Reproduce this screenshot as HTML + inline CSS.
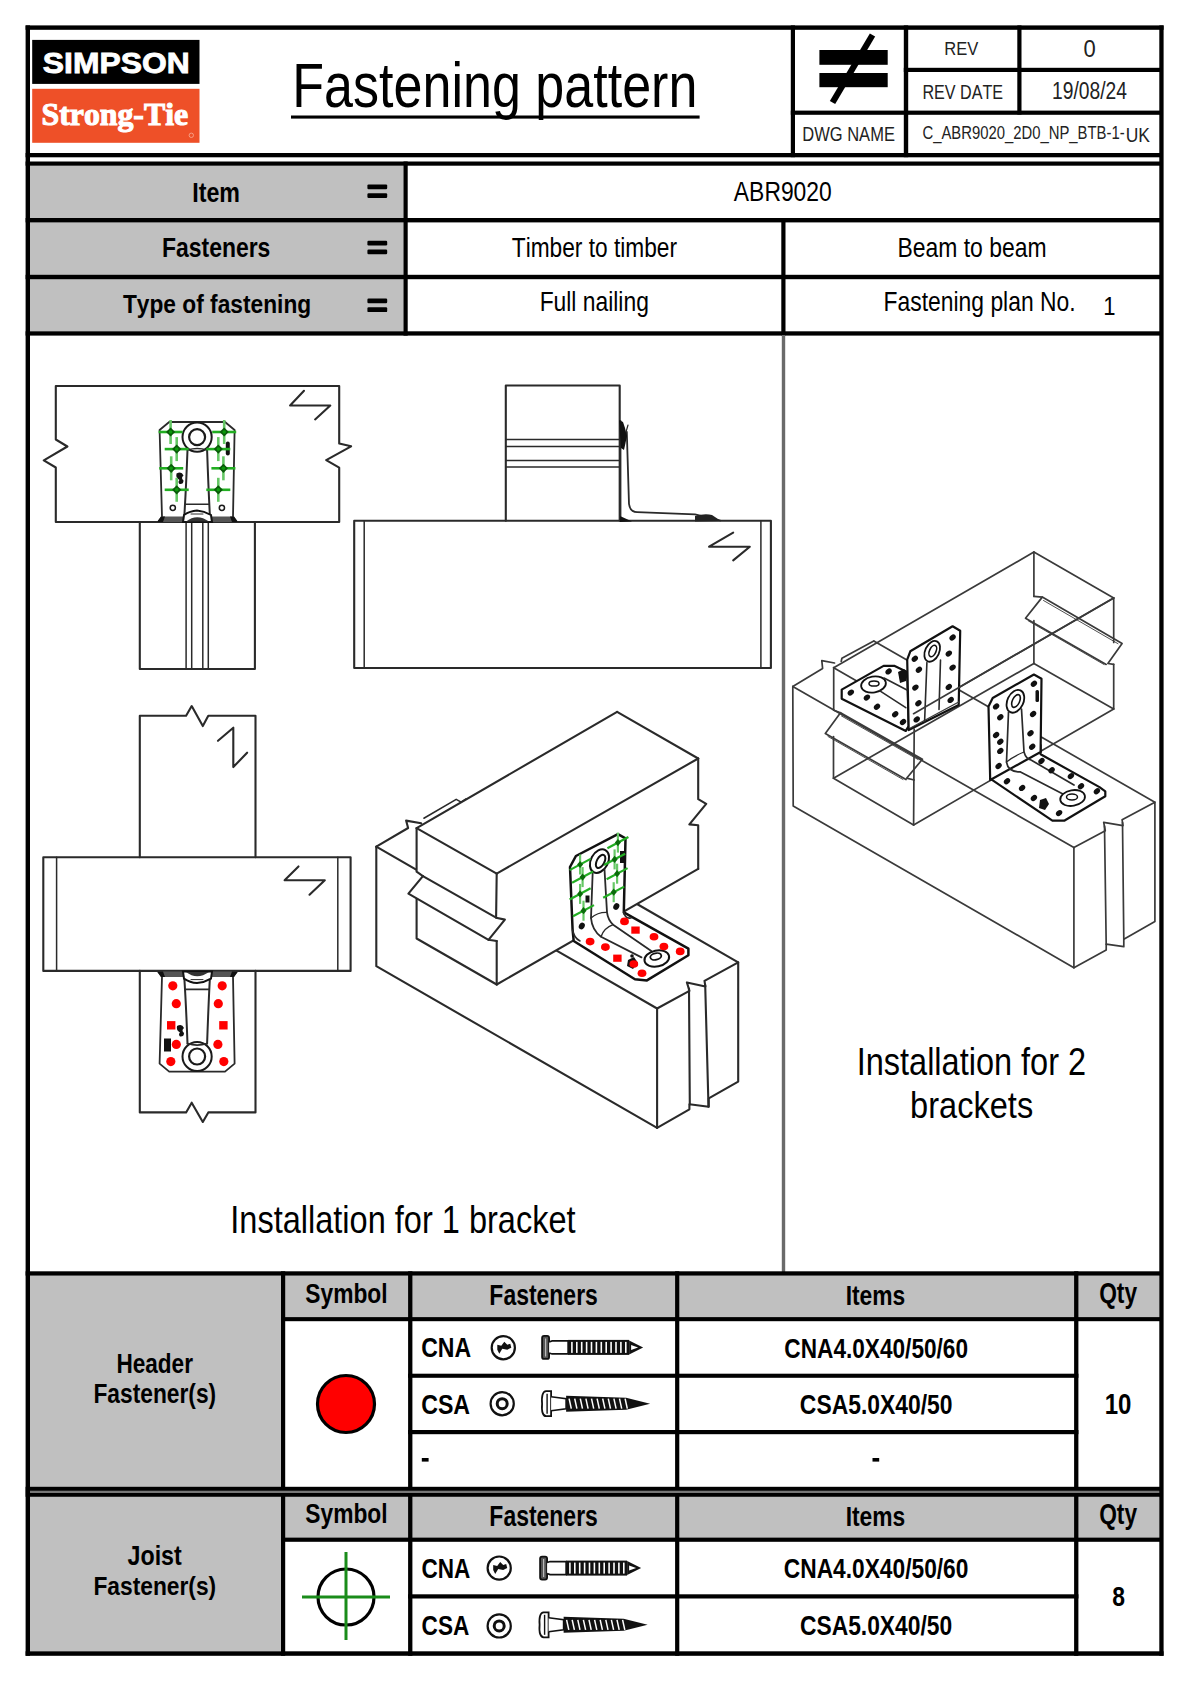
<!DOCTYPE html>
<html><head><meta charset="utf-8"><style>
html,body{margin:0;padding:0;background:#fff;}
svg{display:block;}
text{font-kerning:none;}
</style></head><body>
<svg width="1190" height="1682" viewBox="0 0 1190 1682">
<rect width="1190" height="1682" fill="#fff"/>
<rect x="29.80" y="165.50" width="373.90" height="52.70" fill="#c0c0c0"/>
<rect x="29.80" y="222.20" width="373.90" height="52.80" fill="#c0c0c0"/>
<rect x="29.80" y="279.00" width="373.90" height="52.50" fill="#c0c0c0"/>
<rect x="29.80" y="1275.40" width="251.40" height="211.60" fill="#c0c0c0"/>
<rect x="285.00" y="1275.40" width="874.40" height="41.90" fill="#c0c0c0"/>
<rect x="29.80" y="1496.60" width="251.40" height="154.80" fill="#c0c0c0"/>
<rect x="285.00" y="1496.60" width="874.40" height="41.20" fill="#c0c0c0"/>
<rect x="25.60" y="25.40" width="4.40" height="1630.40" fill="#000"/>
<rect x="1159.30" y="25.40" width="4.30" height="1630.40" fill="#000"/>
<rect x="25.60" y="25.40" width="1138.00" height="4.40" fill="#000"/>
<rect x="25.60" y="1651.30" width="1138.00" height="4.50" fill="#000"/>
<rect x="790.80" y="25.40" width="4.20" height="131.80" fill="#000"/>
<rect x="903.80" y="25.40" width="4.40" height="131.80" fill="#000"/>
<rect x="1017.30" y="25.40" width="4.20" height="89.20" fill="#000"/>
<rect x="903.80" y="67.80" width="259.20" height="4.20" fill="#000"/>
<rect x="790.80" y="110.60" width="372.20" height="4.20" fill="#000"/>
<rect x="25.60" y="153.00" width="1137.40" height="4.30" fill="#000"/>
<rect x="25.60" y="161.50" width="1137.40" height="4.20" fill="#000"/>
<rect x="25.60" y="218.00" width="1137.40" height="4.40" fill="#000"/>
<rect x="25.60" y="274.80" width="1137.40" height="4.40" fill="#000"/>
<rect x="25.60" y="331.30" width="1137.40" height="4.30" fill="#000"/>
<rect x="403.50" y="161.50" width="4.20" height="174.10" fill="#000"/>
<rect x="781.30" y="218.00" width="4.20" height="117.60" fill="#000"/>
<rect x="781.80" y="335.00" width="3.40" height="937.00" fill="#6a6a6a"/>
<rect x="25.60" y="1271.30" width="1137.40" height="4.30" fill="#000"/>
<rect x="281.00" y="1271.30" width="4.20" height="384.50" fill="#000"/>
<rect x="408.10" y="1271.30" width="4.30" height="384.50" fill="#000"/>
<rect x="675.10" y="1271.30" width="4.20" height="384.50" fill="#000"/>
<rect x="1074.10" y="1271.30" width="4.30" height="384.50" fill="#000"/>
<rect x="281.00" y="1317.10" width="882.00" height="4.10" fill="#000"/>
<rect x="408.10" y="1373.70" width="670.30" height="4.10" fill="#000"/>
<rect x="408.10" y="1430.00" width="670.30" height="4.20" fill="#000"/>
<rect x="25.60" y="1486.80" width="1137.40" height="10.00" fill="#000"/>
<rect x="30.00" y="1490.70" width="1129.30" height="2.30" fill="#777"/>
<rect x="281.00" y="1537.60" width="882.00" height="4.20" fill="#000"/>
<rect x="408.10" y="1594.30" width="670.30" height="4.20" fill="#000"/>
<rect x="32.20" y="39.90" width="167.30" height="44.00" fill="#000"/>
<rect x="32.20" y="88.80" width="167.30" height="54.00" fill="#ee5028"/>
<text x="42.88" y="73.00" font-family="Liberation Sans" font-weight="bold" font-size="30.08" textLength="146.76" lengthAdjust="spacingAndGlyphs" fill="#fff" stroke="#fff" stroke-width="0.9">SIMPSON</text>
<text x="41.51" y="124.60" font-family="Liberation Serif" font-weight="bold" font-size="32.62" textLength="146.62" lengthAdjust="spacingAndGlyphs" fill="#fff" stroke="#fff" stroke-width="1.1">Strong-Tie</text>
<circle cx="191.3" cy="135.3" r="2.2" fill="none" stroke="#f6a58c" stroke-width="0.9"/>
<text x="292.33" y="106.50" font-family="Liberation Sans" font-weight="normal" font-size="63.37" textLength="405.05" lengthAdjust="spacingAndGlyphs" fill="#000" >Fastening pattern</text>
<rect x="291.00" y="115.50" width="408.60" height="3.10" fill="#000"/>
<rect x="819.40" y="50.00" width="68.30" height="14.80" fill="#000"/>
<rect x="819.40" y="73.00" width="68.30" height="14.20" fill="#000"/>
<line x1="872.5" y1="35" x2="832.5" y2="102.5" stroke="#000" stroke-width="6.2" stroke-linecap="butt"/>
<text x="944.34" y="54.80" font-family="Liberation Sans" font-weight="normal" font-size="17.73" textLength="34.03" lengthAdjust="spacingAndGlyphs" fill="#222" >REV</text>
<text x="1083.54" y="57.30" font-family="Liberation Sans" font-weight="normal" font-size="24.06" textLength="12.22" lengthAdjust="spacingAndGlyphs" fill="#222" >0</text>
<text x="922.38" y="98.90" font-family="Liberation Sans" font-weight="normal" font-size="20.20" textLength="80.72" lengthAdjust="spacingAndGlyphs" fill="#222" >REV DATE</text>
<text x="1052.03" y="99.30" font-family="Liberation Sans" font-weight="normal" font-size="24.42" textLength="74.93" lengthAdjust="spacingAndGlyphs" fill="#222" >19/08/24</text>
<text x="802.25" y="141.30" font-family="Liberation Sans" font-weight="normal" font-size="19.62" textLength="92.66" lengthAdjust="spacingAndGlyphs" fill="#222" >DWG NAME</text>
<text x="922.45" y="138.70" font-family="Liberation Sans" font-weight="normal" font-size="17.76" textLength="202.21" lengthAdjust="spacingAndGlyphs" fill="#222" >C_ABR9020_2D0_NP_BTB-1-</text>
<text x="1125.65" y="141.80" font-family="Liberation Sans" font-weight="normal" font-size="20.93" textLength="24.24" lengthAdjust="spacingAndGlyphs" fill="#222" >UK</text>
<text x="192.24" y="201.50" font-family="Liberation Sans" font-weight="bold" font-size="26.74" textLength="47.80" lengthAdjust="spacingAndGlyphs" fill="#000" >Item</text>
<text x="161.97" y="257.00" font-family="Liberation Sans" font-weight="bold" font-size="27.47" textLength="108.38" lengthAdjust="spacingAndGlyphs" fill="#000" >Fasteners</text>
<text x="122.94" y="312.50" font-family="Liberation Sans" font-weight="bold" font-size="25.73" textLength="188.28" lengthAdjust="spacingAndGlyphs" fill="#000" >Type of fastening</text>
<rect x="367.4" y="184.4" width="19.8" height="4.8" rx="1.2" fill="#000"/>
<rect x="367.4" y="193.20000000000002" width="19.8" height="4.8" rx="1.2" fill="#000"/>
<rect x="367.4" y="240.7" width="19.8" height="4.8" rx="1.2" fill="#000"/>
<rect x="367.4" y="249.5" width="19.8" height="4.8" rx="1.2" fill="#000"/>
<rect x="367.4" y="298.5" width="19.8" height="4.8" rx="1.2" fill="#000"/>
<rect x="367.4" y="307.3" width="19.8" height="4.8" rx="1.2" fill="#000"/>
<text x="733.86" y="200.70" font-family="Liberation Sans" font-weight="normal" font-size="27.76" textLength="97.94" lengthAdjust="spacingAndGlyphs" fill="#000" >ABR9020</text>
<text x="511.79" y="257.20" font-family="Liberation Sans" font-weight="normal" font-size="28.49" textLength="165.29" lengthAdjust="spacingAndGlyphs" fill="#000" >Timber to timber</text>
<text x="897.42" y="257.10" font-family="Liberation Sans" font-weight="normal" font-size="27.91" textLength="149.09" lengthAdjust="spacingAndGlyphs" fill="#000" >Beam to beam</text>
<text x="539.63" y="310.90" font-family="Liberation Sans" font-weight="normal" font-size="27.91" textLength="109.25" lengthAdjust="spacingAndGlyphs" fill="#000" >Full nailing</text>
<text x="883.62" y="311.40" font-family="Liberation Sans" font-weight="normal" font-size="27.47" textLength="191.96" lengthAdjust="spacingAndGlyphs" fill="#000" >Fastening plan No.</text>
<text x="1103.32" y="315.00" font-family="Liberation Sans" font-weight="normal" font-size="26.60" textLength="12.25" lengthAdjust="spacingAndGlyphs" fill="#000" >1</text>
<text x="230.30" y="1233.10" font-family="Liberation Sans" font-weight="normal" font-size="38.64" textLength="345.24" lengthAdjust="spacingAndGlyphs" fill="#000" >Installation for 1 bracket</text>
<text x="856.70" y="1074.90" font-family="Liberation Sans" font-weight="normal" font-size="38.23" textLength="229.43" lengthAdjust="spacingAndGlyphs" fill="#000" >Installation for 2</text>
<text x="910.10" y="1118.00" font-family="Liberation Sans" font-weight="normal" font-size="36.85" textLength="123.08" lengthAdjust="spacingAndGlyphs" fill="#000" >brackets</text>
<text x="116.39" y="1373.20" font-family="Liberation Sans" font-weight="bold" font-size="26.77" textLength="76.55" lengthAdjust="spacingAndGlyphs" fill="#000" >Header</text>
<text x="93.48" y="1403.20" font-family="Liberation Sans" font-weight="bold" font-size="27.33" textLength="122.66" lengthAdjust="spacingAndGlyphs" fill="#000" >Fastener(s)</text>
<text x="127.55" y="1565.40" font-family="Liberation Sans" font-weight="bold" font-size="28.49" textLength="54.24" lengthAdjust="spacingAndGlyphs" fill="#000" >Joist</text>
<text x="93.48" y="1595.00" font-family="Liberation Sans" font-weight="bold" font-size="26.45" textLength="122.66" lengthAdjust="spacingAndGlyphs" fill="#000" >Fastener(s)</text>
<text x="305.24" y="1303.30" font-family="Liberation Sans" font-weight="bold" font-size="28.50" textLength="82.37" lengthAdjust="spacingAndGlyphs" fill="#000" >Symbol</text>
<text x="305.24" y="1522.70" font-family="Liberation Sans" font-weight="bold" font-size="27.50" textLength="82.37" lengthAdjust="spacingAndGlyphs" fill="#000" >Symbol</text>
<text x="489.36" y="1305.30" font-family="Liberation Sans" font-weight="bold" font-size="28.63" textLength="108.48" lengthAdjust="spacingAndGlyphs" fill="#000" >Fasteners</text>
<text x="489.36" y="1526.30" font-family="Liberation Sans" font-weight="bold" font-size="28.63" textLength="108.48" lengthAdjust="spacingAndGlyphs" fill="#000" >Fasteners</text>
<text x="845.67" y="1305.10" font-family="Liberation Sans" font-weight="bold" font-size="27.04" textLength="59.56" lengthAdjust="spacingAndGlyphs" fill="#000" >Items</text>
<text x="845.67" y="1526.10" font-family="Liberation Sans" font-weight="bold" font-size="27.04" textLength="59.56" lengthAdjust="spacingAndGlyphs" fill="#000" >Items</text>
<text x="1099.17" y="1303.10" font-family="Liberation Sans" font-weight="bold" font-size="28.93" textLength="37.96" lengthAdjust="spacingAndGlyphs" fill="#000" >Qty</text>
<text x="1099.17" y="1523.70" font-family="Liberation Sans" font-weight="bold" font-size="28.93" textLength="37.96" lengthAdjust="spacingAndGlyphs" fill="#000" >Qty</text>
<text x="421.15" y="1357.30" font-family="Liberation Sans" font-weight="bold" font-size="28.21" textLength="49.95" lengthAdjust="spacingAndGlyphs" fill="#000" >CNA</text>
<text x="421.15" y="1413.70" font-family="Liberation Sans" font-weight="bold" font-size="28.07" textLength="48.96" lengthAdjust="spacingAndGlyphs" fill="#000" >CSA</text>
<text x="421.58" y="1577.60" font-family="Liberation Sans" font-weight="bold" font-size="27.07" textLength="48.82" lengthAdjust="spacingAndGlyphs" fill="#000" >CNA</text>
<text x="421.57" y="1634.90" font-family="Liberation Sans" font-weight="bold" font-size="27.93" textLength="47.72" lengthAdjust="spacingAndGlyphs" fill="#000" >CSA</text>
<rect x="421.80" y="1458.00" width="6.80" height="3.60" fill="#000"/>
<rect x="872.50" y="1458.00" width="6.70" height="3.60" fill="#000"/>
<text x="784.37" y="1357.60" font-family="Liberation Sans" font-weight="bold" font-size="28.36" textLength="183.66" lengthAdjust="spacingAndGlyphs" fill="#000" >CNA4.0X40/50/60</text>
<text x="799.86" y="1413.50" font-family="Liberation Sans" font-weight="bold" font-size="28.36" textLength="152.68" lengthAdjust="spacingAndGlyphs" fill="#000" >CSA5.0X40/50</text>
<text x="783.77" y="1578.00" font-family="Liberation Sans" font-weight="bold" font-size="27.78" textLength="184.67" lengthAdjust="spacingAndGlyphs" fill="#000" >CNA4.0X40/50/60</text>
<text x="799.96" y="1634.90" font-family="Liberation Sans" font-weight="bold" font-size="26.78" textLength="152.27" lengthAdjust="spacingAndGlyphs" fill="#000" >CSA5.0X40/50</text>
<text x="1104.69" y="1413.60" font-family="Liberation Sans" font-weight="bold" font-size="29.80" textLength="26.70" lengthAdjust="spacingAndGlyphs" fill="#000" >10</text>
<text x="1112.37" y="1605.80" font-family="Liberation Sans" font-weight="bold" font-size="26.92" textLength="12.73" lengthAdjust="spacingAndGlyphs" fill="#000" >8</text>
<circle cx="346" cy="1404" r="28.5" fill="#ff0000" stroke="#000" stroke-width="3.2"/>
<circle cx="346" cy="1597" r="28" fill="none" stroke="#000" stroke-width="3.2"/>
<path d="M302,1597 H390 M346,1552 V1640" stroke="#1a8c1a" stroke-width="3" fill="none"/>
<rect x="542.1" y="1335.9" width="7" height="23" rx="2" fill="#555" stroke="#111" stroke-width="1.8"/>
<path d="M545.6,1338.4 V1356.4" stroke="#bbb" stroke-width="1.2"/>
<path d="M549.1,1341.9 L552.1,1340.9 H568.1 V1353.9 H552.1 L549.1,1352.9" fill="#fff" stroke="#111" stroke-width="1.6"/>
<rect x="568.1" y="1339.9" width="61" height="15" fill="#111"/>
<rect x="571.1" y="1341.9" width="1.6" height="11" fill="#fff"/>
<rect x="576.0" y="1341.9" width="1.6" height="11" fill="#fff"/>
<rect x="580.9" y="1341.9" width="1.6" height="11" fill="#fff"/>
<rect x="585.8" y="1341.9" width="1.6" height="11" fill="#fff"/>
<rect x="590.7" y="1341.9" width="1.6" height="11" fill="#fff"/>
<rect x="595.6" y="1341.9" width="1.6" height="11" fill="#fff"/>
<rect x="600.5" y="1341.9" width="1.6" height="11" fill="#fff"/>
<rect x="605.4" y="1341.9" width="1.6" height="11" fill="#fff"/>
<rect x="610.3" y="1341.9" width="1.6" height="11" fill="#fff"/>
<rect x="615.2" y="1341.9" width="1.6" height="11" fill="#fff"/>
<rect x="620.1" y="1341.9" width="1.6" height="11" fill="#fff"/>
<rect x="625.0" y="1341.9" width="1.6" height="11" fill="#fff"/>
<path d="M629.1,1340.4 L643.1,1347.4 L629.1,1354.4 Z" fill="#111"/>
<path d="M631.1,1344.9 L638.1,1347.4 L631.1,1349.9 Z" fill="#fff"/>
<path d="M546.1,1391.2 Q541.1,1391.7 542.1,1403.7 Q541.1,1415.7 546.1,1416.2 L551.1,1416.2 V1391.2 Z" fill="#fff" stroke="#111" stroke-width="1.8"/>
<path d="M547.1,1393.7 V1413.7" stroke="#111" stroke-width="1.4"/>
<path d="M551.1,1396.7 L566.1,1398.7 V1408.7 L551.1,1410.7" fill="#fff" stroke="#111" stroke-width="1.6"/>
<path d="M566.1,1395.7 L626.1,1397.7 L650.1,1403.7 L626.1,1409.7 L566.1,1411.7 Z" fill="#111"/>
<path d="M569.1,1398.7 l2.2,10" stroke="#fff" stroke-width="1.5"/>
<path d="M574.7,1398.7 l2.2,10" stroke="#fff" stroke-width="1.5"/>
<path d="M580.3,1398.7 l2.2,10" stroke="#fff" stroke-width="1.5"/>
<path d="M585.9,1398.7 l2.2,10" stroke="#fff" stroke-width="1.5"/>
<path d="M591.5,1398.7 l2.2,10" stroke="#fff" stroke-width="1.5"/>
<path d="M597.1,1398.7 l2.2,10" stroke="#fff" stroke-width="1.5"/>
<path d="M602.7,1398.7 l2.2,10" stroke="#fff" stroke-width="1.5"/>
<path d="M608.3,1398.7 l2.2,10" stroke="#fff" stroke-width="1.5"/>
<path d="M613.9,1398.7 l2.2,10" stroke="#fff" stroke-width="1.5"/>
<path d="M619.5,1398.7 l2.2,10" stroke="#fff" stroke-width="1.5"/>
<path d="M625.1,1398.7 l2.2,10" stroke="#fff" stroke-width="1.5"/>
<rect x="540.1" y="1556.6" width="7" height="23" rx="2" fill="#555" stroke="#111" stroke-width="1.8"/>
<path d="M543.6,1559.1 V1577.1" stroke="#bbb" stroke-width="1.2"/>
<path d="M547.1,1562.6 L550.1,1561.6 H566.1 V1574.6 H550.1 L547.1,1573.6" fill="#fff" stroke="#111" stroke-width="1.6"/>
<rect x="566.1" y="1560.6" width="61" height="15" fill="#111"/>
<rect x="569.1" y="1562.6" width="1.6" height="11" fill="#fff"/>
<rect x="574.0" y="1562.6" width="1.6" height="11" fill="#fff"/>
<rect x="578.9" y="1562.6" width="1.6" height="11" fill="#fff"/>
<rect x="583.8" y="1562.6" width="1.6" height="11" fill="#fff"/>
<rect x="588.7" y="1562.6" width="1.6" height="11" fill="#fff"/>
<rect x="593.6" y="1562.6" width="1.6" height="11" fill="#fff"/>
<rect x="598.5" y="1562.6" width="1.6" height="11" fill="#fff"/>
<rect x="603.4" y="1562.6" width="1.6" height="11" fill="#fff"/>
<rect x="608.3" y="1562.6" width="1.6" height="11" fill="#fff"/>
<rect x="613.2" y="1562.6" width="1.6" height="11" fill="#fff"/>
<rect x="618.1" y="1562.6" width="1.6" height="11" fill="#fff"/>
<rect x="623.0" y="1562.6" width="1.6" height="11" fill="#fff"/>
<path d="M627.1,1561.1 L641.1,1568.1 L627.1,1575.1 Z" fill="#111"/>
<path d="M629.1,1565.6 L636.1,1568.1 L629.1,1570.6 Z" fill="#fff"/>
<path d="M543.6,1612.3 Q538.6,1612.8 539.6,1624.8 Q538.6,1636.8 543.6,1637.3 L548.6,1637.3 V1612.3 Z" fill="#fff" stroke="#111" stroke-width="1.8"/>
<path d="M544.6,1614.8 V1634.8" stroke="#111" stroke-width="1.4"/>
<path d="M548.6,1617.8 L563.6,1619.8 V1629.8 L548.6,1631.8" fill="#fff" stroke="#111" stroke-width="1.6"/>
<path d="M563.6,1616.8 L623.6,1618.8 L647.6,1624.8 L623.6,1630.8 L563.6,1632.8 Z" fill="#111"/>
<path d="M566.6,1619.8 l2.2,10" stroke="#fff" stroke-width="1.5"/>
<path d="M572.2,1619.8 l2.2,10" stroke="#fff" stroke-width="1.5"/>
<path d="M577.8,1619.8 l2.2,10" stroke="#fff" stroke-width="1.5"/>
<path d="M583.4,1619.8 l2.2,10" stroke="#fff" stroke-width="1.5"/>
<path d="M589.0,1619.8 l2.2,10" stroke="#fff" stroke-width="1.5"/>
<path d="M594.6,1619.8 l2.2,10" stroke="#fff" stroke-width="1.5"/>
<path d="M600.2,1619.8 l2.2,10" stroke="#fff" stroke-width="1.5"/>
<path d="M605.8,1619.8 l2.2,10" stroke="#fff" stroke-width="1.5"/>
<path d="M611.4,1619.8 l2.2,10" stroke="#fff" stroke-width="1.5"/>
<path d="M617.0,1619.8 l2.2,10" stroke="#fff" stroke-width="1.5"/>
<path d="M622.6,1619.8 l2.2,10" stroke="#fff" stroke-width="1.5"/>
<circle cx="503.3" cy="1347.7" r="11.6" fill="none" stroke="#111" stroke-width="2.2"/>
<path d="M497.3,1344.7 l4,1 l3,-4 l3,3 l3,-1 l1,4 l-4,2 l-5,-1 l-3,5 l-2,-4 z" fill="#111"/>
<circle cx="502.2" cy="1403.7" r="11.6" fill="none" stroke="#111" stroke-width="2.2"/>
<circle cx="502.2" cy="1403.7" r="5" fill="none" stroke="#111" stroke-width="3"/>
<circle cx="499.2" cy="1568.1" r="11.6" fill="none" stroke="#111" stroke-width="2.2"/>
<path d="M493.2,1565.1 l4,1 l3,-4 l3,3 l3,-1 l1,4 l-4,2 l-5,-1 l-3,5 l-2,-4 z" fill="#111"/>
<circle cx="499.2" cy="1625.9" r="11.6" fill="none" stroke="#111" stroke-width="2.2"/>
<circle cx="499.2" cy="1625.9" r="5" fill="none" stroke="#111" stroke-width="3"/>
<path d="M55.8,386.0 L339.2,386.0 L339.2,443.5 L351.1,446.3 L326.2,460.1 L339.2,467.6 L339.2,522.0 L55.8,522.0 L55.8,467.5 L43.8,460.3 L67.4,446.5 L55.8,439.5 Z" fill="none" stroke="#2a2a2a" stroke-width="2.1" stroke-linejoin="round" stroke-linecap="round" />
<path d="M304.0,390.8 L290.1,405.5 L330.3,405.5 L315.1,419.4" fill="none" stroke="#2a2a2a" stroke-width="2.1" stroke-linejoin="round" stroke-linecap="round" />
<path d="M139.8,522.0 L139.8,669.0 L254.9,669.0 L254.9,522.0" fill="none" stroke="#2a2a2a" stroke-width="2.1" stroke-linejoin="round" stroke-linecap="round" />
<path d="M186.1,522.0 L186.1,669.0" fill="none" stroke="#2a2a2a" stroke-width="1.5" stroke-linejoin="round" stroke-linecap="round" />
<path d="M191.7,522.0 L191.7,669.0" fill="none" stroke="#2a2a2a" stroke-width="1.5" stroke-linejoin="round" stroke-linecap="round" />
<path d="M202.8,522.0 L202.8,669.0" fill="none" stroke="#2a2a2a" stroke-width="1.5" stroke-linejoin="round" stroke-linecap="round" />
<path d="M208.3,522.0 L208.3,669.0" fill="none" stroke="#2a2a2a" stroke-width="1.5" stroke-linejoin="round" stroke-linecap="round" />
<path d="M162.0,517.0 L159.6,430.0 L169.2,422.0 L225.0,422.0 L234.6,430.0 L233.0,517.0" fill="none" stroke="#2a2a2a" stroke-width="1.8" stroke-linejoin="round" stroke-linecap="round" />
<path d="M157,522 L161,516.5 L234,516.5 L238,522 Z" fill="#555"/>
<path d="M157,522 L161,516.5 L165,516.5 L163,522 Z M238,522 L234,516.5 L230,516.5 L232,522 Z" fill="#111"/>
<circle cx="197.1" cy="437.1" r="14.6" fill="none" stroke="#1a1a1a" stroke-width="2"/>
<circle cx="197.1" cy="437.1" r="8" fill="none" stroke="#1a1a1a" stroke-width="2.2"/>
<path d="M187.5,450 Q186,490 184.3,516 M207.1,450 Q208.5,490 209.9,516" fill="none" stroke="#2a2a2a" stroke-width="2" stroke-linejoin="round" stroke-linecap="round" />
<path d="M187.5,450 Q197,447 207.1,450" fill="none" stroke="#2a2a2a" stroke-width="1.6" stroke-linejoin="round" stroke-linecap="round" />
<path d="M186.0,504.2 L209.0,504.2" fill="none" stroke="#2a2a2a" stroke-width="1.6" stroke-linejoin="round" stroke-linecap="round" />
<path d="M183,522 L184,515 Q190,511 197,510.5 Q204,511 211,515 L212,522 Z" fill="#fff" stroke="#111" stroke-width="2"/>
<path d="M186,521.5 Q197,513 209,521.5 Z" fill="#333"/>
<path d="M191.0,514.0 L203.0,514.0" fill="none" stroke="#2a2a2a" stroke-width="1" stroke-linejoin="round" stroke-linecap="round" />
<rect x="225.8" y="441.5" width="4" height="14" rx="2" fill="#111"/>
<path d="M176.5,473.5 q5,-3 7,2 q-3,2.5 0,5 q0,4 -4,3.5 q-2,-2 0,-4 q-4,-2 -3,-6.5z" fill="#111"/>
<circle cx="172.8" cy="507.8" r="2.6" fill="none" stroke="#1a1a1a" stroke-width="1.5"/>
<circle cx="221.9" cy="507.8" r="2.6" fill="none" stroke="#1a1a1a" stroke-width="1.5"/>
<path d="M170.6,420 V444" stroke="#66c866" stroke-width="2.6" fill="none"/>
<path d="M158.6,432 H182.6" stroke="#22ae22" stroke-width="2.6" fill="none"/>
<path d="M170.6,427.4 L175.2,432 L170.6,436.6 L166.0,432 Z" fill="#0a5a0a"/>
<circle cx="170.6" cy="432" r="1.8" fill="#0a9a0a"/>
<path d="M224.2,420 V444" stroke="#66c866" stroke-width="2.6" fill="none"/>
<path d="M212.2,432 H236.2" stroke="#22ae22" stroke-width="2.6" fill="none"/>
<path d="M224.2,427.4 L228.79999999999998,432 L224.2,436.6 L219.6,432 Z" fill="#0a5a0a"/>
<circle cx="224.2" cy="432" r="1.8" fill="#0a9a0a"/>
<path d="M176.7,437.1 V461.1" stroke="#66c866" stroke-width="2.6" fill="none"/>
<path d="M164.7,449.1 H188.7" stroke="#22ae22" stroke-width="2.6" fill="none"/>
<path d="M176.7,444.5 L181.29999999999998,449.1 L176.7,453.70000000000005 L172.1,449.1 Z" fill="#0a5a0a"/>
<circle cx="176.7" cy="449.1" r="1.8" fill="#0a9a0a"/>
<path d="M218.3,437.1 V461.1" stroke="#66c866" stroke-width="2.6" fill="none"/>
<path d="M206.3,449.1 H230.3" stroke="#22ae22" stroke-width="2.6" fill="none"/>
<path d="M218.3,444.5 L222.9,449.1 L218.3,453.70000000000005 L213.70000000000002,449.1 Z" fill="#0a5a0a"/>
<circle cx="218.3" cy="449.1" r="1.8" fill="#0a9a0a"/>
<path d="M171.2,456.3 V480.3" stroke="#66c866" stroke-width="2.6" fill="none"/>
<path d="M159.2,468.3 H183.2" stroke="#22ae22" stroke-width="2.6" fill="none"/>
<path d="M171.2,463.7 L175.79999999999998,468.3 L171.2,472.90000000000003 L166.6,468.3 Z" fill="#0a5a0a"/>
<circle cx="171.2" cy="468.3" r="1.8" fill="#0a9a0a"/>
<path d="M223.4,456.3 V480.3" stroke="#66c866" stroke-width="2.6" fill="none"/>
<path d="M211.4,468.3 H235.4" stroke="#22ae22" stroke-width="2.6" fill="none"/>
<path d="M223.4,463.7 L228.0,468.3 L223.4,472.90000000000003 L218.8,468.3 Z" fill="#0a5a0a"/>
<circle cx="223.4" cy="468.3" r="1.8" fill="#0a9a0a"/>
<path d="M176.7,477.8 V501.8" stroke="#66c866" stroke-width="2.6" fill="none"/>
<path d="M164.7,489.8 H188.7" stroke="#22ae22" stroke-width="2.6" fill="none"/>
<path d="M176.7,485.2 L181.29999999999998,489.8 L176.7,494.40000000000003 L172.1,489.8 Z" fill="#0a5a0a"/>
<circle cx="176.7" cy="489.8" r="1.8" fill="#0a9a0a"/>
<path d="M218.3,477.8 V501.8" stroke="#66c866" stroke-width="2.6" fill="none"/>
<path d="M206.3,489.8 H230.3" stroke="#22ae22" stroke-width="2.6" fill="none"/>
<path d="M218.3,485.2 L222.9,489.8 L218.3,494.40000000000003 L213.70000000000002,489.8 Z" fill="#0a5a0a"/>
<circle cx="218.3" cy="489.8" r="1.8" fill="#0a9a0a"/>
<path d="M354.2,520.8 L770.9,520.8 L770.9,668.0 L354.2,668.0 Z" fill="none" stroke="#2a2a2a" stroke-width="2.1" stroke-linejoin="round" stroke-linecap="round" />
<path d="M364.2,520.8 L364.2,668.0" fill="none" stroke="#2a2a2a" stroke-width="1.5" stroke-linejoin="round" stroke-linecap="round" />
<path d="M760.9,520.8 L760.9,668.0" fill="none" stroke="#2a2a2a" stroke-width="1.5" stroke-linejoin="round" stroke-linecap="round" />
<path d="M505.8,520.8 L505.8,385.5 L619.7,385.5 L619.7,520.8" fill="none" stroke="#2a2a2a" stroke-width="2.1" stroke-linejoin="round" stroke-linecap="round" />
<path d="M505.8,439.5 L619.7,439.5" fill="none" stroke="#2a2a2a" stroke-width="1.5" stroke-linejoin="round" stroke-linecap="round" />
<path d="M505.8,446.6 L619.7,446.6" fill="none" stroke="#2a2a2a" stroke-width="1.5" stroke-linejoin="round" stroke-linecap="round" />
<path d="M505.8,460.5 L619.7,460.5" fill="none" stroke="#2a2a2a" stroke-width="1.5" stroke-linejoin="round" stroke-linecap="round" />
<path d="M505.8,467.0 L619.7,467.0" fill="none" stroke="#2a2a2a" stroke-width="1.5" stroke-linejoin="round" stroke-linecap="round" />
<path d="M620.5,421 L620.5,521 M626.8,431.8 L629,504 Q630,512 637.1,512.1 L695,514.3 L720.2,520.5" fill="none" stroke="#2a2a2a" stroke-width="1.8" stroke-linejoin="round" stroke-linecap="round" />
<path d="M619,420 L623,422 L625,428 L627,436 L624,450 L621,448 Z" fill="#111"/>
<path d="M620,516 L632,521.5 L620,522 Z" fill="#111"/>
<path d="M695,516 Q705,513 712,515 L721,521 L695,521.5 Z" fill="#222"/>
<path d="M626,432 L628,425" fill="none" stroke="#2a2a2a" stroke-width="1.2" stroke-linejoin="round" stroke-linecap="round" />
<path d="M733.2,532.7 L709.1,546.7 L749.8,546.7 L733.2,560.4" fill="none" stroke="#2a2a2a" stroke-width="2.1" stroke-linejoin="round" stroke-linecap="round" />
<path d="M139.8,857.2 L139.8,715.8 L186.1,715.8 L191.7,706.1 L202.8,726.1 L208.3,715.8 L255.5,715.8 L255.5,857.2" fill="none" stroke="#2a2a2a" stroke-width="2.1" stroke-linejoin="round" stroke-linecap="round" />
<path d="M139.8,970.9 L139.8,1112.4 L186.1,1112.4 L191.7,1102.7 L202.8,1122.0 L208.3,1112.4 L255.5,1112.4 L255.5,970.9" fill="none" stroke="#2a2a2a" stroke-width="2.1" stroke-linejoin="round" stroke-linecap="round" />
<path d="M218.0,740.8 L233.3,727.7 L233.3,767.1 L247.1,752.7" fill="none" stroke="#2a2a2a" stroke-width="2.1" stroke-linejoin="round" stroke-linecap="round" />
<path d="M43.3,857.2 L350.6,857.2 L350.6,970.9 L43.3,970.9 Z" fill="none" stroke="#2a2a2a" stroke-width="2.1" stroke-linejoin="round" stroke-linecap="round" />
<path d="M56.6,857.2 L56.6,970.9" fill="none" stroke="#2a2a2a" stroke-width="1.5" stroke-linejoin="round" stroke-linecap="round" />
<path d="M337.8,857.2 L337.8,970.9" fill="none" stroke="#2a2a2a" stroke-width="1.5" stroke-linejoin="round" stroke-linecap="round" />
<path d="M298.5,866.4 L284.6,880.2 L324.8,880.2 L309.5,894.7" fill="none" stroke="#2a2a2a" stroke-width="2.1" stroke-linejoin="round" stroke-linecap="round" />
<g transform="matrix(1,0,0,-1,0,1493.6)">
<path d="M162.0,517.0 L159.6,430.0 L169.2,422.0 L225.0,422.0 L234.6,430.0 L233.0,517.0" fill="none" stroke="#2a2a2a" stroke-width="1.8" stroke-linejoin="round" stroke-linecap="round" />
<path d="M157,522 L161,516.5 L234,516.5 L238,522 Z" fill="#555"/>
<path d="M157,522 L161,516.5 L165,516.5 L163,522 Z M238,522 L234,516.5 L230,516.5 L232,522 Z" fill="#111"/>
<circle cx="197.1" cy="437.1" r="14.6" fill="none" stroke="#1a1a1a" stroke-width="2"/>
<circle cx="197.1" cy="437.1" r="8" fill="none" stroke="#1a1a1a" stroke-width="2.2"/>
<path d="M187.5,450 Q186,490 184.3,516 M207.1,450 Q208.5,490 209.9,516" fill="none" stroke="#2a2a2a" stroke-width="2" stroke-linejoin="round" stroke-linecap="round" />
<path d="M187.5,450 Q197,447 207.1,450" fill="none" stroke="#2a2a2a" stroke-width="1.6" stroke-linejoin="round" stroke-linecap="round" />
<path d="M186.0,504.2 L209.0,504.2" fill="none" stroke="#2a2a2a" stroke-width="1.6" stroke-linejoin="round" stroke-linecap="round" />
<path d="M183,522 L184,515 Q190,511 197,510.5 Q204,511 211,515 L212,522 Z" fill="#fff" stroke="#111" stroke-width="2"/>
<path d="M186,521.5 Q197,513 209,521.5 Z" fill="#333"/>
<path d="M191.0,514.0 L203.0,514.0" fill="none" stroke="#2a2a2a" stroke-width="1" stroke-linejoin="round" stroke-linecap="round" />
</g>
<circle cx="172.8" cy="985.8" r="4.6" fill="#ff0000"/>
<circle cx="222.2" cy="985.8" r="4.6" fill="#ff0000"/>
<circle cx="176.3" cy="1003.7" r="4.6" fill="#ff0000"/>
<circle cx="218.3" cy="1003.7" r="4.6" fill="#ff0000"/>
<circle cx="176.3" cy="1044.4" r="4.6" fill="#ff0000"/>
<circle cx="217.9" cy="1044.4" r="4.6" fill="#ff0000"/>
<circle cx="170.8" cy="1061.6" r="4.6" fill="#ff0000"/>
<circle cx="223.8" cy="1061.6" r="4.6" fill="#ff0000"/>
<rect x="167.0" y="1021.0999999999999" width="8.4" height="8.4" fill="#ff0000"/>
<rect x="219.20000000000002" y="1021.0999999999999" width="8.4" height="8.4" fill="#ff0000"/>
<rect x="164" y="1038.5" width="7" height="13" fill="#111"/>
<path d="M177,1026 q5,-3 7,2 q-3,2.5 0,5 q0,4 -4,3.5 q-2,-2 0,-4 q-4,-2 -3,-6.5z" fill="#111"/>
<path d="M376.3,846.7 L376.3,966.2 L657.1,1127.8" fill="none" stroke="#2a2a2a" stroke-width="2.1" stroke-linejoin="round" stroke-linecap="round" />
<path d="M376.3,846.7 L657.1,1008.5" fill="none" stroke="#2a2a2a" stroke-width="2.1" stroke-linejoin="round" stroke-linecap="round" />
<path d="M657.1,1008.5 L657.1,1127.8" fill="none" stroke="#2a2a2a" stroke-width="2.1" stroke-linejoin="round" stroke-linecap="round" />
<path d="M657.1,1008.5 L689.4,990.8 L686.9,982.4 L705.4,986.6 L704.5,980.8 L738.2,962.3 L738.2,1081.6 L708.7,1098.4 L708.7,1106.8 L689.4,1104.3 L689.4,1109.3 L657.1,1127.8" fill="none" stroke="#2a2a2a" stroke-width="2.1" stroke-linejoin="round" stroke-linecap="round" />
<path d="M689.0,988.5 L689.8,1104.3" fill="none" stroke="#2a2a2a" stroke-width="2.1" stroke-linejoin="round" stroke-linecap="round" />
<path d="M705.2,985.0 L708.5,1106.8" fill="none" stroke="#2a2a2a" stroke-width="2.1" stroke-linejoin="round" stroke-linecap="round" />
<path d="M637.0,904.0 L738.2,962.3" fill="none" stroke="#2a2a2a" stroke-width="2.1" stroke-linejoin="round" stroke-linecap="round" />
<path d="M376.3,846.7 L408.1,828.0 L406.1,820.6 L421.2,823.3" fill="none" stroke="#2a2a2a" stroke-width="2.1" stroke-linejoin="round" stroke-linecap="round" />
<path d="M423.9,818.2 L456.2,799.4 L461.2,802.1 L466.0,799.0" fill="none" stroke="#2a2a2a" stroke-width="1.6" stroke-linejoin="round" stroke-linecap="round" />
<path d="M617.1,711.8 L698.2,758.5 L698.2,868.9 L496.7,984.5 L416.6,938.5 L416.6,828.2 Z" fill="#fff"/>
<path d="M617.1,711.8 L698.2,758.5" fill="none" stroke="#2a2a2a" stroke-width="2.1" stroke-linejoin="round" stroke-linecap="round" />
<path d="M617.1,711.8 L416.6,828.2" fill="none" stroke="#2a2a2a" stroke-width="2.1" stroke-linejoin="round" stroke-linecap="round" />
<path d="M416.6,828.2 L496.7,873.6" fill="none" stroke="#2a2a2a" stroke-width="2.1" stroke-linejoin="round" stroke-linecap="round" />
<path d="M496.7,873.6 L698.2,758.5" fill="none" stroke="#2a2a2a" stroke-width="2.1" stroke-linejoin="round" stroke-linecap="round" />
<path d="M698.2,758.5 L698.2,799.2 L706.2,803.9 L689.4,824.4 L698.2,825.2 L698.2,868.9" fill="none" stroke="#2a2a2a" stroke-width="2.1" stroke-linejoin="round" stroke-linecap="round" />
<path d="M698.2,868.9 L496.7,984.5" fill="none" stroke="#2a2a2a" stroke-width="2.1" stroke-linejoin="round" stroke-linecap="round" />
<path d="M496.7,873.6 L496.1,917.7" fill="none" stroke="#2a2a2a" stroke-width="2.1" stroke-linejoin="round" stroke-linecap="round" />
<path d="M496.7,941.0 L496.7,984.5" fill="none" stroke="#2a2a2a" stroke-width="2.1" stroke-linejoin="round" stroke-linecap="round" />
<path d="M416.6,828.2 L416.6,871.7 L422.9,876.1" fill="none" stroke="#2a2a2a" stroke-width="2.1" stroke-linejoin="round" stroke-linecap="round" />
<path d="M416.6,898.8 L416.6,938.5 L496.7,984.5" fill="none" stroke="#2a2a2a" stroke-width="2.1" stroke-linejoin="round" stroke-linecap="round" />
<path d="M422.9,876.1 L496.1,917.7 L504.9,919.6 L488.5,939.8 L496.7,941.0" fill="none" stroke="#2a2a2a" stroke-width="2.1" stroke-linejoin="round" stroke-linecap="round" />
<path d="M422.9,876.1 L408.4,893.7 L488.5,939.8" fill="none" stroke="#2a2a2a" stroke-width="2.1" stroke-linejoin="round" stroke-linecap="round" />
<path d="M570.0,867.0 L575.9,856.0 L617.9,834.2 L625.5,838.4 L623.8,912.4 L688.4,948.7 L688.4,955.3 L646.9,980.4 L634.9,979.3 L573.7,941.0 L572.6,930.0 Z" fill="#fff" stroke="#111" stroke-width="2.5" stroke-linejoin="round" stroke-linecap="round" />
<path d="M623.8,912.4 L624.0,913.7" fill="none" stroke="#2a2a2a" stroke-width="2" stroke-linejoin="round" stroke-linecap="round" />
<path d="M572.6,930 Q574,938 580,941 M623.8,912.4 Q625,919 631,918" fill="none" stroke="#2a2a2a" stroke-width="1.6" stroke-linejoin="round" stroke-linecap="round" />
<ellipse cx="599.5" cy="861.1" rx="8.6" ry="12.5" transform="rotate(28 599.5 861.1)" fill="none" stroke="#111" stroke-width="2"/>
<ellipse cx="600.6" cy="861.4" rx="3.8" ry="7.2" transform="rotate(28 600.6 861.4)" fill="none" stroke="#111" stroke-width="2"/>
<path d="M592.7,872 L591,918 Q592,930 601,936.7 L641.5,957.4 M604.5,869.5 L607,912.4 Q608,920 613.1,924.7 L651.3,950.9" fill="none" stroke="#2a2a2a" stroke-width="1.8" stroke-linejoin="round" stroke-linecap="round" />
<path d="M591,918 Q598,912 607,912.4 M601,936.7 Q604,928 613.1,924.7" fill="none" stroke="#2a2a2a" stroke-width="1.4" stroke-linejoin="round" stroke-linecap="round" />
<ellipse cx="656.8" cy="958.5" rx="12.5" ry="8" transform="rotate(-12 656.8 958.5)" fill="#fff" stroke="#111" stroke-width="2"/>
<ellipse cx="655.8" cy="956.5" rx="5.6" ry="3.3" transform="rotate(-12 655.8 956.5)" fill="none" stroke="#111" stroke-width="1.8"/>
<ellipse cx="581.8" cy="926" rx="2.8" ry="3.6" transform="rotate(30 581.8 926)" fill="#111"/>
<ellipse cx="616.3" cy="906.5" rx="2.8" ry="3.6" transform="rotate(30 616.3 906.5)" fill="#111"/>
<rect x="620" y="851" width="4.5" height="12" fill="#111"/>
<rect x="585.5" y="895.5" width="4" height="7" fill="#111"/>
<path d="M628,960 l6,-3 l4,6 l-5,6 l-6,-3 z" fill="#111"/>
<circle cx="632" cy="956" r="1.8" fill="#111"/>
<path d="M580.1,854.5 V874.5" stroke="#66c866" stroke-width="2.2" fill="none"/>
<path d="M569.6,870.1 L590.6,858.9" stroke="#22ae22" stroke-width="2.2" fill="none"/>
<path d="M580.1,860.9 L583.1,864.5 L580.1,868.1 L577.1,864.5 Z" fill="#0b6b0b"/>
<path d="M582.6,867.1 V887.1" stroke="#66c866" stroke-width="2.2" fill="none"/>
<path d="M572.1,882.7 L593.1,871.5" stroke="#22ae22" stroke-width="2.2" fill="none"/>
<path d="M582.6,873.5 L585.6,877.1 L582.6,880.7 L579.6,877.1 Z" fill="#0b6b0b"/>
<path d="M580.1,883.9 V903.9" stroke="#66c866" stroke-width="2.2" fill="none"/>
<path d="M569.6,899.5 L590.6,888.3" stroke="#22ae22" stroke-width="2.2" fill="none"/>
<path d="M580.1,890.3 L583.1,893.9 L580.1,897.5 L577.1,893.9 Z" fill="#0b6b0b"/>
<path d="M583.5,900.7 V920.7" stroke="#66c866" stroke-width="2.2" fill="none"/>
<path d="M573.0,916.3000000000001 L594.0,905.1" stroke="#22ae22" stroke-width="2.2" fill="none"/>
<path d="M583.5,907.1 L586.5,910.7 L583.5,914.3000000000001 L580.5,910.7 Z" fill="#0b6b0b"/>
<path d="M617.9,832.6 V852.6" stroke="#66c866" stroke-width="2.2" fill="none"/>
<path d="M607.4,848.2 L628.4,837.0" stroke="#22ae22" stroke-width="2.2" fill="none"/>
<path d="M617.9,839.0 L620.9,842.6 L617.9,846.2 L614.9,842.6 Z" fill="#0b6b0b"/>
<path d="M614.6,849.4 V869.4" stroke="#66c866" stroke-width="2.2" fill="none"/>
<path d="M604.1,865.0 L625.1,853.8" stroke="#22ae22" stroke-width="2.2" fill="none"/>
<path d="M614.6,855.8 L617.6,859.4 L614.6,863.0 L611.6,859.4 Z" fill="#0b6b0b"/>
<path d="M617.1,863.7 V883.7" stroke="#66c866" stroke-width="2.2" fill="none"/>
<path d="M606.6,879.3000000000001 L627.6,868.1" stroke="#22ae22" stroke-width="2.2" fill="none"/>
<path d="M617.1,870.1 L620.1,873.7 L617.1,877.3000000000001 L614.1,873.7 Z" fill="#0b6b0b"/>
<path d="M613.7,882.2 V902.2" stroke="#66c866" stroke-width="2.2" fill="none"/>
<path d="M603.2,897.8000000000001 L624.2,886.6" stroke="#22ae22" stroke-width="2.2" fill="none"/>
<path d="M613.7,888.6 L616.7,892.2 L613.7,895.8000000000001 L610.7,892.2 Z" fill="#0b6b0b"/>
<ellipse cx="590.1" cy="941.6" rx="4.4" ry="3.8" fill="#ff0000"/>
<ellipse cx="605.4" cy="947.1" rx="4.4" ry="3.8" fill="#ff0000"/>
<ellipse cx="633.8" cy="964" rx="4.4" ry="3.8" fill="#ff0000"/>
<ellipse cx="642" cy="973.3" rx="4.4" ry="3.8" fill="#ff0000"/>
<ellipse cx="624.5" cy="921.4" rx="4.4" ry="3.8" fill="#ff0000"/>
<ellipse cx="654" cy="936.7" rx="4.4" ry="3.8" fill="#ff0000"/>
<ellipse cx="663.9" cy="946.5" rx="4.4" ry="3.8" fill="#ff0000"/>
<ellipse cx="680.2" cy="951.4" rx="4.4" ry="3.8" fill="#ff0000"/>
<rect x="613.1999999999999" y="954.6" width="8.4" height="7.2" fill="#ff0000"/>
<rect x="631.3" y="926.5" width="8.4" height="7.2" fill="#ff0000"/>
<path d="M792.8,686.5 L793.2,806.0 L1073.9,967.7" fill="none" stroke="#3a3a3a" stroke-width="1.7" stroke-linejoin="round" stroke-linecap="round" />
<path d="M792.8,686.5 L1073.9,847.6" fill="none" stroke="#3a3a3a" stroke-width="1.7" stroke-linejoin="round" stroke-linecap="round" />
<path d="M1073.9,847.6 L1073.9,967.7" fill="none" stroke="#3a3a3a" stroke-width="1.7" stroke-linejoin="round" stroke-linecap="round" />
<path d="M873.8,641.1 L1154.9,802.2" fill="none" stroke="#3a3a3a" stroke-width="1.7" stroke-linejoin="round" stroke-linecap="round" />
<path d="M1073.9,847.6 L1105.3,830.8 L1103.7,822.4 L1123.0,825.7 L1122.1,819.8 L1154.9,802.2 L1154.9,921.5 L1154.9,921.5 L1123.8,939.2 L1123.8,946.7 L1106.2,944.2 L1106.2,950.1 L1073.9,967.7" fill="none" stroke="#3a3a3a" stroke-width="1.7" stroke-linejoin="round" stroke-linecap="round" />
<path d="M1104.5,826.0 L1106.2,944.2" fill="none" stroke="#3a3a3a" stroke-width="1.7" stroke-linejoin="round" stroke-linecap="round" />
<path d="M1122.5,822.5 L1123.8,939.2" fill="none" stroke="#3a3a3a" stroke-width="1.7" stroke-linejoin="round" stroke-linecap="round" />
<path d="M792.8,686.5 L822.6,668.4 L821.8,660.6 L834.5,663.0" fill="none" stroke="#3a3a3a" stroke-width="1.7" stroke-linejoin="round" stroke-linecap="round" />
<path d="M841.2,661.4 L841.9,658.2 L873.8,641.1" fill="none" stroke="#3a3a3a" stroke-width="1.7" stroke-linejoin="round" stroke-linecap="round" />
<path d="M1033.9,552.1 L1113.7,598.0" fill="none" stroke="#3a3a3a" stroke-width="1.7" stroke-linejoin="round" stroke-linecap="round" />
<path d="M1033.9,552.1 L833.7,667.7" fill="none" stroke="#3a3a3a" stroke-width="1.7" stroke-linejoin="round" stroke-linecap="round" />
<path d="M833.7,667.7 L913.6,713.7" fill="none" stroke="#3a3a3a" stroke-width="1.7" stroke-linejoin="round" stroke-linecap="round" />
<path d="M1113.7,598.0 L913.6,713.7" fill="none" stroke="#3a3a3a" stroke-width="1.7" stroke-linejoin="round" stroke-linecap="round" />
<path d="M1033.9,552.1 L1033.9,596.3" fill="none" stroke="#3a3a3a" stroke-width="1.7" stroke-linejoin="round" stroke-linecap="round" />
<path d="M1033.9,620.7 L1033.9,663.5" fill="none" stroke="#3a3a3a" stroke-width="1.7" stroke-linejoin="round" stroke-linecap="round" />
<path d="M1113.7,598.0 L1113.7,642.5" fill="none" stroke="#3a3a3a" stroke-width="1.7" stroke-linejoin="round" stroke-linecap="round" />
<path d="M1113.7,664.4 L1113.7,708.9" fill="none" stroke="#3a3a3a" stroke-width="1.7" stroke-linejoin="round" stroke-linecap="round" />
<path d="M1033.9,663.5 L1113.7,708.9" fill="none" stroke="#3a3a3a" stroke-width="1.7" stroke-linejoin="round" stroke-linecap="round" />
<path d="M1033.9,663.5 L833.5,778.2" fill="none" stroke="#3a3a3a" stroke-width="1.7" stroke-linejoin="round" stroke-linecap="round" />
<path d="M1113.7,708.9 L913.6,824.9" fill="none" stroke="#3a3a3a" stroke-width="1.7" stroke-linejoin="round" stroke-linecap="round" />
<path d="M833.5,778.2 L913.6,824.9" fill="none" stroke="#3a3a3a" stroke-width="1.7" stroke-linejoin="round" stroke-linecap="round" />
<path d="M833.7,667.7 L833.7,710.2" fill="none" stroke="#3a3a3a" stroke-width="1.7" stroke-linejoin="round" stroke-linecap="round" />
<path d="M833.5,736.6 L833.5,778.2" fill="none" stroke="#3a3a3a" stroke-width="1.7" stroke-linejoin="round" stroke-linecap="round" />
<path d="M914.2,729.0 L913.6,824.9" fill="none" stroke="#3a3a3a" stroke-width="1.7" stroke-linejoin="round" stroke-linecap="round" />
<path d="M1033.9,596.3 L1042.3,597.1 L1122.1,643.4 L1107.9,663.5 L1113.7,664.4" fill="none" stroke="#3a3a3a" stroke-width="1.7" stroke-linejoin="round" stroke-linecap="round" />
<path d="M1042.3,597.1 L1025.5,618.2 L1106.2,664.4" fill="none" stroke="#3a3a3a" stroke-width="1.7" stroke-linejoin="round" stroke-linecap="round" />
<path d="M1043.5,600.5 L1118.0,643.7" fill="none" stroke="#3a3a3a" stroke-width="0.9" stroke-linejoin="round" stroke-linecap="round" />
<path d="M1028.5,621.0 L1104.0,664.5" fill="none" stroke="#3a3a3a" stroke-width="0.9" stroke-linejoin="round" stroke-linecap="round" />
<path d="M833.7,710.2 L840.5,712.7 L922.4,759.3 L906.6,778.2 L914.2,780.0" fill="none" stroke="#3a3a3a" stroke-width="1.7" stroke-linejoin="round" stroke-linecap="round" />
<path d="M840.5,712.7 L825.3,733.5 L906.0,779.5" fill="none" stroke="#3a3a3a" stroke-width="1.7" stroke-linejoin="round" stroke-linecap="round" />
<path d="M841.5,716.0 L918.0,759.5" fill="none" stroke="#3a3a3a" stroke-width="0.9" stroke-linejoin="round" stroke-linecap="round" />
<path d="M828.0,736.5 L903.0,779.5" fill="none" stroke="#3a3a3a" stroke-width="0.9" stroke-linejoin="round" stroke-linecap="round" />
<path d="M841.7,689.6 L883.6,665.9 L894.7,665.9 L907.2,672.0 L908.7,726.1 L905.8,730.9 L841.7,698.7 Z" fill="#fff" stroke="#111" stroke-width="2.2" stroke-linejoin="round" stroke-linecap="round" />
<path d="M907.2,659.6 L910.3,651.3 L952.6,626.3 L960.2,630.8 L958.7,705.0 L908.7,730.0 Z" fill="#fff" stroke="#111" stroke-width="2.2" stroke-linejoin="round" stroke-linecap="round" />
<path d="M910.5,728.0 L958.7,702.0" fill="none" stroke="#3a3a3a" stroke-width="1.4" stroke-linejoin="round" stroke-linecap="round" />
<ellipse cx="932.2" cy="651.3" rx="7" ry="11" transform="rotate(25 932.2 651.3)" fill="none" stroke="#111" stroke-width="1.8"/>
<ellipse cx="932.8" cy="651" rx="3.2" ry="6" transform="rotate(25 932.8 651)" fill="none" stroke="#111" stroke-width="1.6"/>
<path d="M926.9,662.6 L924.6,721.6 M940.5,660 L939,709.5" fill="none" stroke="#2a2a2a" stroke-width="1.6" stroke-linejoin="round" stroke-linecap="round" />
<ellipse cx="873.5" cy="684.5" rx="12.5" ry="8" transform="rotate(-10 873.5 684.5)" fill="#fff" stroke="#111" stroke-width="1.8"/>
<ellipse cx="874" cy="683.5" rx="5" ry="2.6" fill="none" stroke="#111" stroke-width="1.5"/>
<path d="M879.5,690.6 L905.8,707.7 M884,678 L907,690" fill="none" stroke="#2a2a2a" stroke-width="1.6" stroke-linejoin="round" stroke-linecap="round" />
<ellipse cx="914.8" cy="658.8" rx="3.5" ry="2.6" transform="rotate(-40 914.8 658.8)" fill="#111"/>
<ellipse cx="918.9" cy="669.8" rx="3.5" ry="2.6" transform="rotate(-40 918.9 669.8)" fill="#111"/>
<ellipse cx="915.4" cy="687.6" rx="3.5" ry="2.6" transform="rotate(-40 915.4 687.6)" fill="#111"/>
<ellipse cx="918.4" cy="703.3" rx="3.5" ry="2.6" transform="rotate(-40 918.4 703.3)" fill="#111"/>
<ellipse cx="952.6" cy="637.5" rx="3.5" ry="2.6" transform="rotate(-40 952.6 637.5)" fill="#111"/>
<ellipse cx="948.8" cy="653.6" rx="3.5" ry="2.6" transform="rotate(-40 948.8 653.6)" fill="#111"/>
<ellipse cx="952.6" cy="667.6" rx="3.5" ry="2.6" transform="rotate(-40 952.6 667.6)" fill="#111"/>
<ellipse cx="948.8" cy="686.9" rx="3.5" ry="2.6" transform="rotate(-40 948.8 686.9)" fill="#111"/>
<ellipse cx="950.7" cy="699.9" rx="3.5" ry="2.6" transform="rotate(-40 950.7 699.9)" fill="#111"/>
<ellipse cx="916.7" cy="719.4" rx="3.5" ry="2.6" transform="rotate(-40 916.7 719.4)" fill="#111"/>
<ellipse cx="850.8" cy="692.6" rx="3.5" ry="2.6" transform="rotate(-40 850.8 692.6)" fill="#111"/>
<ellipse cx="866.9" cy="697.6" rx="3.5" ry="2.6" transform="rotate(-40 866.9 697.6)" fill="#111"/>
<ellipse cx="877" cy="706.7" rx="3.5" ry="2.6" transform="rotate(-40 877 706.7)" fill="#111"/>
<ellipse cx="895.2" cy="714.3" rx="3.5" ry="2.6" transform="rotate(-40 895.2 714.3)" fill="#111"/>
<ellipse cx="888.6" cy="671.4" rx="3.5" ry="2.6" transform="rotate(-40 888.6 671.4)" fill="#111"/>
<ellipse cx="903" cy="722" rx="3.5" ry="2.6" transform="rotate(-40 903 722)" fill="#111"/>
<path d="M898,672 l6,-3 l4,4 l-2,8 l-6,2 z" fill="#111"/>
<path d="M1113.7,598.0 L913.6,713.7" fill="none" stroke="#3a3a3a" stroke-width="1.7" stroke-linejoin="round" stroke-linecap="round" />
<path d="M990.2,778.7 L1052.4,820.7 L1064.2,820.7 L1105.3,796.3 L1105.3,791.4 L1099.5,787.1 L1040.6,754.3 L1040.6,745.0 Z" fill="#fff" stroke="#111" stroke-width="2.2" stroke-linejoin="round" stroke-linecap="round" />
<path d="M988.5,706.4 L992.7,698.0 L1033.9,674.5 L1041.5,678.7 L1040.6,752.0 L990.2,780.0 Z" fill="#fff" stroke="#111" stroke-width="2.2" stroke-linejoin="round" stroke-linecap="round" />
<ellipse cx="1015.4" cy="701.3" rx="8" ry="12" transform="rotate(25 1015.4 701.3)" fill="none" stroke="#111" stroke-width="1.8"/>
<ellipse cx="1016" cy="701" rx="3.6" ry="6.8" transform="rotate(25 1016 701)" fill="none" stroke="#111" stroke-width="1.6"/>
<path d="M1008.5,712 L1006.5,762 Q1008,772 1020.5,771.9 L1065.8,795.5 M1021.5,709 L1024,752 Q1026,759 1031,760 L1074,785" fill="none" stroke="#2a2a2a" stroke-width="1.7" stroke-linejoin="round" stroke-linecap="round" />
<path d="M1006.5,762 Q1014,756 1024,752" fill="none" stroke="#2a2a2a" stroke-width="1.3" stroke-linejoin="round" stroke-linecap="round" />
<ellipse cx="1072.6" cy="798" rx="12.5" ry="7.8" transform="rotate(-10 1072.6 798)" fill="#fff" stroke="#111" stroke-width="1.8"/>
<ellipse cx="1072" cy="797" rx="5.5" ry="3" fill="none" stroke="#111" stroke-width="1.5"/>
<ellipse cx="996.1" cy="706.4" rx="3.5" ry="2.6" transform="rotate(-40 996.1 706.4)" fill="#111"/>
<ellipse cx="1000.3" cy="717.3" rx="3.5" ry="2.6" transform="rotate(-40 1000.3 717.3)" fill="#111"/>
<ellipse cx="996.1" cy="735" rx="3.5" ry="2.6" transform="rotate(-40 996.1 735)" fill="#111"/>
<ellipse cx="1000.3" cy="741.7" rx="3.5" ry="2.6" transform="rotate(-40 1000.3 741.7)" fill="#111"/>
<ellipse cx="1000.3" cy="750.9" rx="3.5" ry="2.6" transform="rotate(-40 1000.3 750.9)" fill="#111"/>
<ellipse cx="998.6" cy="766" rx="3.5" ry="2.6" transform="rotate(-40 998.6 766)" fill="#111"/>
<ellipse cx="1033.9" cy="683.7" rx="3.5" ry="2.6" transform="rotate(-40 1033.9 683.7)" fill="#111"/>
<ellipse cx="1033.1" cy="714" rx="3.5" ry="2.6" transform="rotate(-40 1033.1 714)" fill="#111"/>
<ellipse cx="1030.5" cy="733.3" rx="3.5" ry="2.6" transform="rotate(-40 1030.5 733.3)" fill="#111"/>
<ellipse cx="1032.2" cy="746.7" rx="3.5" ry="2.6" transform="rotate(-40 1032.2 746.7)" fill="#111"/>
<ellipse cx="1007" cy="781.2" rx="3.5" ry="2.6" transform="rotate(-40 1007 781.2)" fill="#111"/>
<ellipse cx="1022.1" cy="787.9" rx="3.5" ry="2.6" transform="rotate(-40 1022.1 787.9)" fill="#111"/>
<ellipse cx="1033.9" cy="798" rx="3.5" ry="2.6" transform="rotate(-40 1033.9 798)" fill="#111"/>
<ellipse cx="1041.5" cy="761" rx="3.5" ry="2.6" transform="rotate(-40 1041.5 761)" fill="#111"/>
<ellipse cx="1051.6" cy="770.3" rx="3.5" ry="2.6" transform="rotate(-40 1051.6 770.3)" fill="#111"/>
<ellipse cx="1070.9" cy="776.1" rx="3.5" ry="2.6" transform="rotate(-40 1070.9 776.1)" fill="#111"/>
<ellipse cx="1081" cy="786.2" rx="3.5" ry="2.6" transform="rotate(-40 1081 786.2)" fill="#111"/>
<ellipse cx="1096.9" cy="791.3" rx="3.5" ry="2.6" transform="rotate(-40 1096.9 791.3)" fill="#111"/>
<ellipse cx="1059.1" cy="813.1" rx="3.5" ry="2.6" transform="rotate(-40 1059.1 813.1)" fill="#111"/>
<rect x="1035.5" y="690" width="3.5" height="12" rx="1.5" fill="#111"/>
<path d="M1040,800 l6,-2 l3,6 l-4,6 l-6,-2 z" fill="#111"/>
</svg>
</body></html>
